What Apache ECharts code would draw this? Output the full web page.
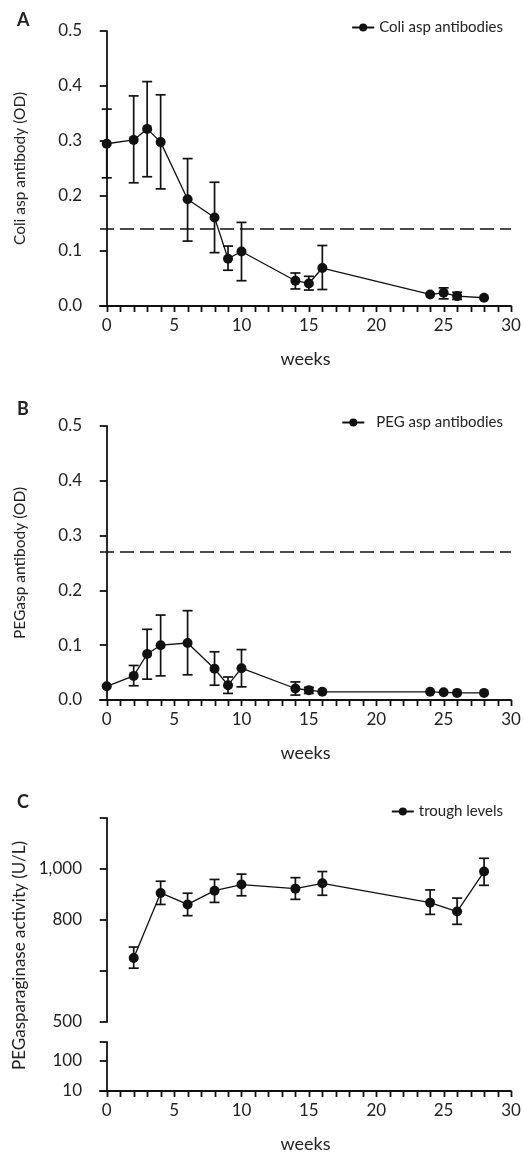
<!DOCTYPE html>
<html>
<head>
<meta charset="utf-8">
<style>
  html, body { margin: 0; padding: 0; background: #fff; }
  #chart { width: 524px; height: 1154px; }
</style>
<script src="https://cdn.jsdelivr.net/npm/echarts@6/dist/echarts.min.js"></script>
</head>
<body>
<div id="chart"></div>
<script>
// Sampling weeks
const abWeeks = [0, 2, 3, 4, 6, 8, 9, 10, 14, 15, 16, 24, 25, 26, 28];
const troughWeeks = [2, 4, 6, 8, 10, 14, 16, 24, 26, 28];

// Panel A: E. coli asparaginase antibodies (OD), mean with error range
const coliMean = [0.295, 0.302, 0.322, 0.298, 0.194, 0.161, 0.086, 0.099, 0.046, 0.041, 0.069, 0.021, 0.024, 0.018, 0.015];
const coliLow  = [0.233, 0.224, 0.235, 0.213, 0.118, 0.097, 0.065, 0.046, 0.031, 0.029, 0.030, null, 0.013, 0.012, null];
const coliHigh = [0.358, 0.382, 0.408, 0.384, 0.268, 0.225, 0.109, 0.152, 0.060, 0.054, 0.110, null, 0.033, 0.025, null];
const coliCutoff = 0.143;

// Panel B: PEG-asparaginase antibodies (OD)
const pegMean = [0.025, 0.044, 0.084, 0.100, 0.104, 0.057, 0.027, 0.058, 0.021, 0.018, 0.015, 0.015, 0.014, 0.013, 0.013];
const pegLow  = [null, 0.026, 0.038, 0.044, 0.046, 0.027, 0.012, 0.024, 0.009, 0.012, null, null, null, null, null];
const pegHigh = [null, 0.063, 0.129, 0.155, 0.163, 0.088, 0.042, 0.092, 0.033, 0.023, null, null, null, null, null];
const pegCutoff = 0.267;

// Panel C: PEGasparaginase trough activity (U/L)
const troughMean = [651, 906, 861, 915, 939, 923, 944, 868, 833, 990];
const troughLow  = [611, 861, 817, 869, 895, 881, 897, 822, 783, 936];
const troughHigh = [694, 952, 905, 959, 980, 966, 990, 918, 886, 1042];

// Axis ticks and labels
const weekTicks = [0,1,2,3,4,5,6,7,8,9,10,11,12,13,14,15,16,17,18,19,20,21,22,23,24,25,26,27,28,29,30];
const weekLabels = [0, 5, 10, 15, 20, 25, 30];
const troughTickValues = [400, 600, 800, 1000, 1200];
const troughTickLabels = ['500', '', '800', '1,000', ''];
const lowLabelValues = [10, 100];

const FONT = 'Lato';
const INK = '#111';
const TXT = '#222';
const AXIS_W = 1.8;

const X_MIN = -0.5, X_MAX = 30;

function pairs(xs, ys) { return xs.map((x, i) => [x, ys[i]]); }
function errRows(xs, lo, hi) {
  const out = [];
  xs.forEach((x, i) => { if (lo[i] != null && hi[i] != null) out.push([x, lo[i], hi[i]]); });
  return out;
}

// Vertical error bars with caps
function errorBars(name, xi, yi, rows) {
  return {
    type: 'custom', name: name + ' err', xAxisIndex: xi, yAxisIndex: yi, z: 3,
    silent: true, clip: false,
    data: rows,
    encode: { x: 0, y: [1, 2] },
    renderItem: function (params, api) {
      const x = api.value(0);
      const lo = api.coord([x, api.value(1)]);
      const hi = api.coord([x, api.value(2)]);
      const cap = 5;
      const st = { stroke: INK, lineWidth: 1.7 };
      return {
        type: 'group',
        children: [
          { type: 'line', shape: { x1: lo[0], y1: lo[1], x2: hi[0], y2: hi[1] }, style: st },
          { type: 'line', shape: { x1: hi[0] - cap, y1: hi[1], x2: hi[0] + cap, y2: hi[1] }, style: st },
          { type: 'line', shape: { x1: lo[0] - cap, y1: lo[1], x2: lo[0] + cap, y2: lo[1] }, style: st }
        ]
      };
    }
  };
}

// Weekly tick marks hanging below the weeks axis (anchored at the axis' lower bound)
function weekTickMarks(xi, yi, yBase) {
  return {
    type: 'custom', name: 'weekly ticks ' + xi, xAxisIndex: xi, yAxisIndex: yi, z: 10,
    silent: true, clip: false,
    data: weekTicks.map(w => [w, yBase, yBase]),
    encode: { x: 0, y: [1, 2] },
    renderItem: function (params, api) {
      const p = api.coord([api.value(0), api.value(1)]);
      const x = Math.round(p[0]) + 0.5;
      return {
        type: 'group',
        children: [
          { type: 'line', shape: { x1: x, y1: p[1], x2: x, y2: p[1] + 6 },
            style: { stroke: INK, lineWidth: 1.8 } }
        ]
      };
    }
  };
}

function lineSeries(name, xi, yi, data, cutoff) {
  const s = {
    type: 'line', name: name, xAxisIndex: xi, yAxisIndex: yi, z: 5,
    data: data, symbol: 'circle', symbolSize: 10,
    itemStyle: { color: INK }, lineStyle: { color: INK, width: 1.3 },
    animation: false
  };
  if (cutoff != null) {
    s.markLine = {
      silent: true, symbol: 'none', label: { show: false },
      lineStyle: { color: INK, type: [14, 6], width: 1.6 },
      data: [{ yAxis: cutoff }]
    };
  }
  return s;
}

// Weeks axis: line, labels every 5 weeks, title
function weekAxis(gi, visible) {
  return {
    type: 'value', gridIndex: gi, min: X_MIN, max: X_MAX,
    show: visible,
    name: 'weeks', nameLocation: 'middle', nameGap: 44,
    nameTextStyle: { fontFamily: FONT, fontSize: 18, color: TXT },
    axisLine: { show: true, onZero: false, lineStyle: { color: INK, width: AXIS_W } },
    axisTick: { show: false },
    axisLabel: { customValues: weekLabels, fontFamily: FONT, fontSize: 17, color: TXT, margin: 11 },
    splitLine: { show: false }
  };
}

function odAxis(gi, name) {
  return {
    type: 'value', gridIndex: gi, min: 0, max: 0.5, interval: 0.1,
    name: name, nameLocation: 'middle', nameGap: 72,
    nameTextStyle: { fontFamily: FONT, fontSize: 15.5, color: TXT },
    axisLine: { show: true, lineStyle: { color: INK, width: AXIS_W } },
    axisTick: { show: true, length: 7, lineStyle: { color: INK, width: AXIS_W } },
    axisLabel: { fontFamily: FONT, fontSize: 17, color: TXT, margin: 18, formatter: v => v.toFixed(1) },
    splitLine: { show: false }
  };
}

const chart = echarts.init(document.getElementById('chart'), null, { renderer: 'canvas' });

const option = {
  animation: false,
  backgroundColor: '#fff',
  title: [
    { text: 'A', left: 12, top: 6, textStyle: { fontFamily: FONT, fontSize: 18, fontWeight: 'bold', color: TXT } },
    { text: 'B', left: 12, top: 395, textStyle: { fontFamily: FONT, fontSize: 18, fontWeight: 'bold', color: TXT } },
    { text: 'C', left: 12, top: 788, textStyle: { fontFamily: FONT, fontSize: 18, fontWeight: 'bold', color: TXT } }
  ],
  legend: [
    { data: ['Coli asp antibodies'], right: 16, top: 15, itemWidth: 22, itemHeight: 10,
      textStyle: { fontFamily: FONT, fontSize: 15, color: TXT } },
    { data: ['PEG asp antibodies'], right: 16, top: 410, itemWidth: 22, itemHeight: 10,
      textStyle: { fontFamily: FONT, fontSize: 15, color: TXT, padding: [0, 0, 0, 7] } },
    { data: ['trough levels'], right: 16, top: 799, itemWidth: 22, itemHeight: 10,
      textStyle: { fontFamily: FONT, fontSize: 15, color: TXT } }
  ],
  grid: [
    { left: 100, width: 411, top: 31, height: 275 },   // A
    { left: 100, width: 411, top: 426, height: 274 },  // B
    { left: 100, width: 411, top: 818, height: 204 },  // C upper segment
    { left: 100, width: 411, top: 1042, height: 51 },  // C lower segment
    { left: 100, width: 411, top: 818, height: 275 }   // C title span
  ],
  xAxis: [
    weekAxis(0, true),
    weekAxis(1, true),
    weekAxis(2, false),
    weekAxis(3, true),
    weekAxis(4, false)
  ],
  yAxis: [
    odAxis(0, 'Coli asp antibody (OD)'),
    odAxis(1, 'PEGasp antibody (OD)'),
    {
      type: 'value', gridIndex: 2, min: 400, max: 1200, interval: 200,
      axisLine: { show: true, lineStyle: { color: INK, width: AXIS_W } },
      axisTick: { show: true, length: 7, lineStyle: { color: INK, width: AXIS_W } },
      axisLabel: { fontFamily: FONT, fontSize: 17, color: TXT, margin: 18,
        formatter: v => troughTickLabels[troughTickValues.indexOf(v)] || '' },
      splitLine: { show: false }
    },
    {
      type: 'log', logBase: 10, gridIndex: 3, min: 10, max: 400,
      axisLine: { show: true, lineStyle: { color: INK, width: AXIS_W } },
      axisTick: { show: true, length: 7, lineStyle: { color: INK, width: AXIS_W } },
      axisLabel: { customValues: lowLabelValues, fontFamily: FONT, fontSize: 17, color: TXT, margin: 18 },
      splitLine: { show: false }
    },
    {
      type: 'value', gridIndex: 4, min: 0, max: 1,
      name: 'PEGasparaginase activity (U/L)', nameLocation: 'middle', nameGap: 72,
      nameTextStyle: { fontFamily: FONT, fontSize: 17, color: TXT },
      axisLine: { show: false }, axisTick: { show: false }, axisLabel: { show: false },
      splitLine: { show: false }
    }
  ],
  series: [
    weekTickMarks(0, 0, 0),
    weekTickMarks(1, 1, 0),
    weekTickMarks(3, 3, 10),
    errorBars('Coli', 0, 0, errRows(abWeeks, coliLow, coliHigh)),
    lineSeries('Coli asp antibodies', 0, 0, pairs(abWeeks, coliMean), coliCutoff),
    errorBars('PEG', 1, 1, errRows(abWeeks, pegLow, pegHigh)),
    lineSeries('PEG asp antibodies', 1, 1, pairs(abWeeks, pegMean), pegCutoff),
    errorBars('Trough', 2, 2, errRows(troughWeeks, troughLow, troughHigh)),
    lineSeries('trough levels', 2, 2, pairs(troughWeeks, troughMean), null)
  ]
};

chart.setOption(option);
</script>
</body>
</html>
